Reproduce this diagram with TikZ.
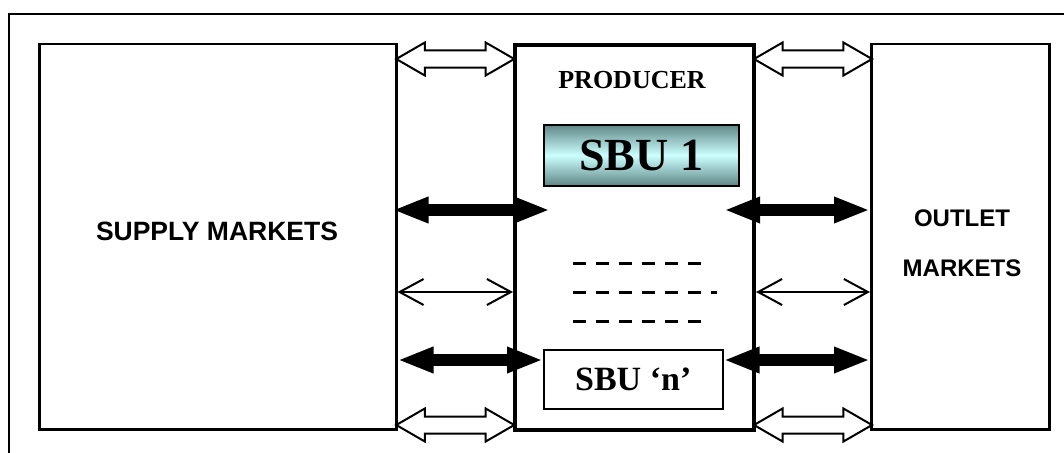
\documentclass[tikz,border=0pt]{standalone}
\usepackage{fontspec}
\setmainfont{Liberation Serif}
\newfontfamily\arialfont{Liberation Sans}
\usetikzlibrary{arrows.meta,shapes.arrows,calc}

\definecolor{sbudark}{RGB}{96,134,134}
\definecolor{sbulight}{RGB}{204,255,255}

\begin{document}
\begin{tikzpicture}[x=1pt,y=-1pt,
  box/.style={draw, line width=2.5pt, rectangle, inner sep=0pt, anchor=north west},
  hollow/.style={double arrow, draw, fill=white, line width=2pt,
    inner xsep=0pt, inner ysep=7.5pt, minimum width=31pt,
    double arrow head extend=8pt, double arrow tip angle=60},
  fat/.style={line width=12pt, {Triangle[length=36pt,width=24pt]}-{Triangle[length=36pt,width=24pt]}},
  thin/.style={line width=2pt, {Straight Barb[length=24pt,width=26pt,line width=2pt]}-{Straight Barb[length=24pt,width=26pt,line width=2pt]}},
  dots/.style={line width=3pt, dash pattern=on 13pt off 10pt},
  sansbold/.style={font=\arialfont\bfseries\fontsize{24}{50}\selectfont, align=center}]
\useasboundingbox (0,0) rectangle (1064,452);
\clip (0,0) rectangle (1064,452);

% outer frame, running past the page edges
\draw[line width=2.5pt] (9,475) -- (9,14) -- (1090,14);

% markets and producer
\node[box, minimum width=357pt, minimum height=385pt] (sup) at (38,43) {};
\node[box, minimum width=178pt, minimum height=385pt] (out) at (870,43) {};
\node[box, line width=4pt, minimum width=239pt, minimum height=385pt] (prod) at (513,43) {};
\node[sansbold, font=\arialfont\bfseries\fontsize{26.5}{30}\selectfont] (suplabel) at (217,231) {SUPPLY MARKETS};
\node[sansbold] (outlabel) at (962,243) {OUTLET\\MARKETS};
\node[font=\bfseries\fontsize{26}{30}\selectfont] (prodlabel) at (632,80) {PRODUCER};

% business units
\node[box, line width=1.5pt, minimum width=195pt, minimum height=61pt,
  top color=sbudark, bottom color=sbudark, middle color=sbulight,
  font=\bfseries\fontsize{46}{50}\selectfont] (sbu1) at (543,124) {SBU 1};
\node[box, line width=1.5pt, minimum width=179pt, minimum height=59pt, fill=white,
  font=\bfseries\fontsize{34}{40}\selectfont] (sbun) at (543,349) {SBU ‘n’};

% further units
\draw[dots] (573,263) -- (702,263);
\draw[dots] (573,292) -- (717,292);
\draw[dots] (573,321) -- (702,321);

% row levels
\coordinate (rowA) at (0,59);
\coordinate (rowB) at (0,210);
\coordinate (rowC) at (0,292);
\coordinate (rowD) at (0,360);
\coordinate (rowE) at (0,425);

% flows between supply markets and producer
\node[hollow, minimum height=118pt] (hl1) at ($(sup.east |- rowA)!0.5!(prod.west |- rowA)$) {};
\draw[fat] ([xshift=-5pt]sup.east |- rowB) -- ([xshift=37pt]prod.west |- rowB);
\draw[thin] (sup.east |- rowC) -- (prod.west |- rowC);
\draw[fat] (sup.east |- rowD) -- (sbun.west |- rowD);
\node[hollow, minimum height=118pt] (hl2) at ($(sup.east |- rowE)!0.5!(prod.west |- rowE)$) {};

% flows between producer and outlet markets
\node[hollow, minimum height=118pt] (hr1) at ($(prod.east |- rowA)!0.5!(out.west |- rowA)$) {};
\draw[fat] ([xshift=-32pt]prod.east |- rowB) -- (out.west |- rowB);
\draw[thin] (prod.east |- rowC) -- (out.west |- rowC);
\draw[fat] (sbun.east |- rowD) -- (out.west |- rowD);
\node[hollow, minimum height=118pt] (hr2) at ($(prod.east |- rowE)!0.5!(out.west |- rowE)$) {};
\end{tikzpicture}
\end{document}
